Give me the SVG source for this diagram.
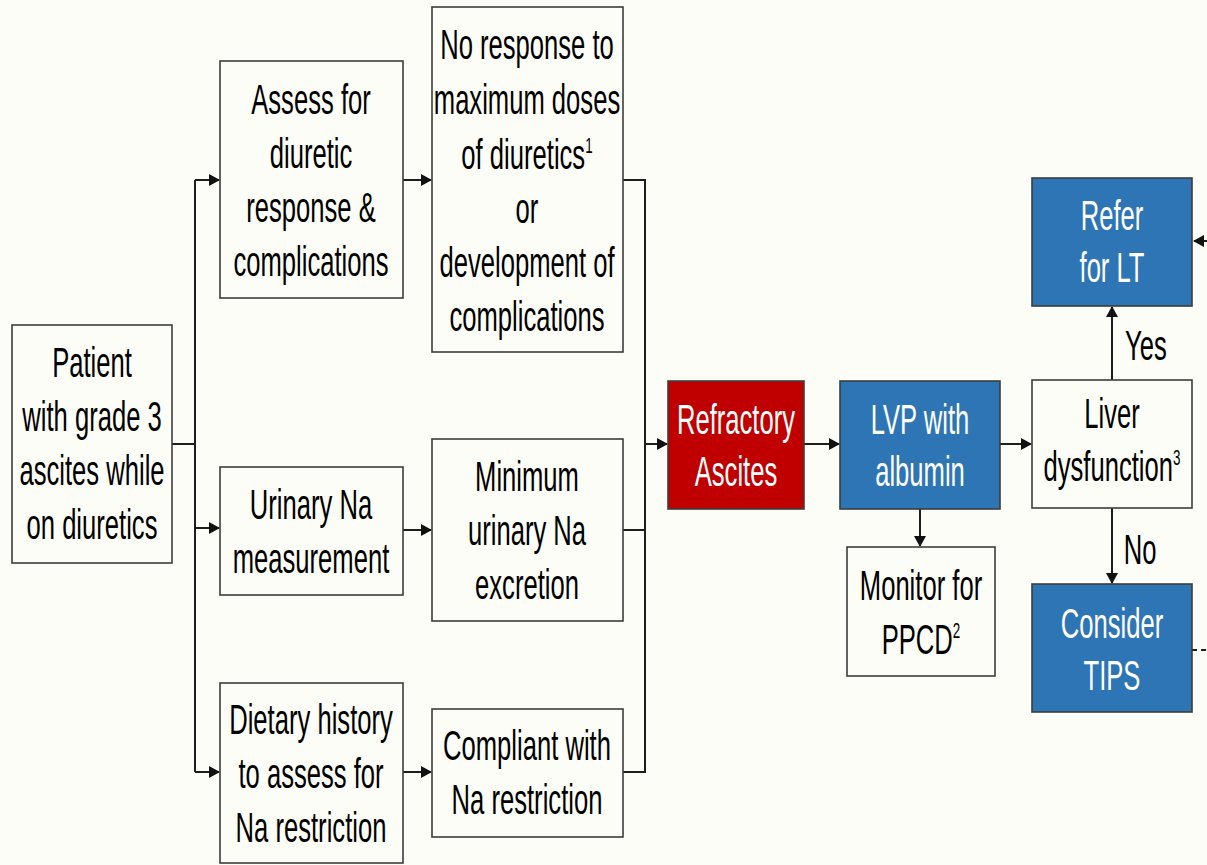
<svg xmlns="http://www.w3.org/2000/svg" width="1207" height="865" viewBox="0 0 1207 865">
<style>
.bg{fill:#fdfdf7}
.box{fill:#fdfdf7;stroke:#3c3c3c;stroke-width:1.6}
.red{fill:#c00000;stroke:#3c3c3c;stroke-width:1.6}
.blue{fill:#2e75b6;stroke:#3c3c3c;stroke-width:1.6}
.t{font-family:"Liberation Sans",Arial,sans-serif;font-size:42px;text-anchor:middle;fill:#000}
.w{fill:#fff}
.sup{font-size:22px}
.c{fill:none;stroke:#1e1e1e;stroke-width:2}
.d{fill:none;stroke:#1e1e1e;stroke-width:2;stroke-dasharray:5 4}
</style>
<defs>
<marker id="ah" markerUnits="userSpaceOnUse" markerWidth="11" markerHeight="12" refX="10" refY="6" orient="auto">
<path d="M0,0 L11,6 L0,12 z" fill="#111"/>
</marker>
</defs>
<rect class="bg" x="0" y="0" width="1207" height="865"/>

<g id="connectors">
<path class="c" d="M172,444 H195"/>
<path class="c" d="M195,180 V772"/>
<path class="c" d="M195,180 H219" marker-end="url(#ah)"/>
<path class="c" d="M195,528 H219" marker-end="url(#ah)"/>
<path class="c" d="M195,772 H219" marker-end="url(#ah)"/>
<path class="c" d="M403,180 H431" marker-end="url(#ah)"/>
<path class="c" d="M403,530 H431" marker-end="url(#ah)"/>
<path class="c" d="M403,772 H431" marker-end="url(#ah)"/>
<path class="c" d="M623,180 H645 V772 H623"/>
<path class="c" d="M623,530 H645"/>
<path class="c" d="M645,444 H667" marker-end="url(#ah)"/>
<path class="c" d="M804,444 H839" marker-end="url(#ah)"/>
<path class="c" d="M1000,444 H1031" marker-end="url(#ah)"/>
<path class="c" d="M920,509 V546" marker-end="url(#ah)"/>
<path class="c" d="M1112,380 V307" marker-end="url(#ah)"/>
<path class="c" d="M1112,508 V583" marker-end="url(#ah)"/>
<path class="d" d="M1207,241 H1194" marker-end="url(#ah)"/>
<path class="d" d="M1192,650 H1207"/>
</g>

<g id="patient">
<rect class="box" x="12" y="325" width="160" height="238"/>
<text class="t" transform="translate(92 0) scale(0.61 1)"><tspan x="0" y="377">Patient</tspan><tspan x="0" y="431">with grade 3</tspan><tspan x="0" y="485">ascites while</tspan><tspan x="0" y="539">on diuretics</tspan></text>
</g>

<g id="assess">
<rect class="box" x="220" y="61" width="183" height="237"/>
<text class="t" transform="translate(311 0) scale(0.61 1)"><tspan x="0" y="114">Assess for</tspan><tspan x="0" y="168">diuretic</tspan><tspan x="0" y="222">response &amp;</tspan><tspan x="0" y="276">complications</tspan></text>
</g>

<g id="noresponse">
<rect class="box" x="432" y="7" width="191" height="345"/>
<text class="t" transform="translate(527 0) scale(0.61 1)"><tspan x="0" y="59">No response to</tspan><tspan x="0" y="114">maximum doses</tspan><tspan x="0" y="169">of diuretics<tspan class="sup" dy="-16">1</tspan></tspan><tspan x="0" y="223">or</tspan><tspan x="0" y="277">development of</tspan><tspan x="0" y="331">complications</tspan></text>
</g>

<g id="urinary">
<rect class="box" x="220" y="467" width="183" height="128"/>
<text class="t" transform="translate(311 0) scale(0.61 1)"><tspan x="0" y="519">Urinary Na</tspan><tspan x="0" y="573">measurement</tspan></text>
</g>

<g id="minimum">
<rect class="box" x="432" y="439" width="191" height="182"/>
<text class="t" transform="translate(527 0) scale(0.61 1)"><tspan x="0" y="491">Minimum</tspan><tspan x="0" y="545">urinary Na</tspan><tspan x="0" y="599">excretion</tspan></text>
</g>

<g id="dietary">
<rect class="box" x="220" y="683" width="183" height="180"/>
<text class="t" transform="translate(311 0) scale(0.61 1)"><tspan x="0" y="734">Dietary history</tspan><tspan x="0" y="788">to assess for</tspan><tspan x="0" y="842">Na restriction</tspan></text>
</g>

<g id="compliant">
<rect class="box" x="432" y="709" width="191" height="128"/>
<text class="t" transform="translate(527 0) scale(0.61 1)"><tspan x="0" y="760">Compliant with</tspan><tspan x="0" y="814">Na restriction</tspan></text>
</g>

<g id="refractory">
<rect class="red" x="668" y="381" width="136" height="128"/>
<text class="t w" transform="translate(736 0) scale(0.61 1)"><tspan x="0" y="434">Refractory</tspan><tspan x="0" y="486">Ascites</tspan></text>
</g>

<g id="lvp">
<rect class="blue" x="840" y="381" width="160" height="128"/>
<text class="t w" transform="translate(920 0) scale(0.61 1)"><tspan x="0" y="434">LVP with</tspan><tspan x="0" y="486">albumin</tspan></text>
</g>

<g id="monitor">
<rect class="box" x="847" y="547" width="148" height="129"/>
<text class="t" transform="translate(921 0) scale(0.61 1)"><tspan x="0" y="600">Monitor for</tspan><tspan x="0" y="654">PPCD<tspan class="sup" dy="-16">2</tspan></tspan></text>
</g>

<g id="refer">
<rect class="blue" x="1032" y="178" width="160" height="128"/>
<text class="t w" transform="translate(1112 0) scale(0.61 1)"><tspan x="0" y="230">Refer</tspan><tspan x="0" y="282">for LT</tspan></text>
</g>

<g id="liver">
<rect class="box" x="1032" y="380" width="160" height="128"/>
<text class="t" transform="translate(1112 0) scale(0.61 1)"><tspan x="0" y="428">Liver</tspan><tspan x="0" y="481">dysfunction<tspan class="sup" dy="-16">3</tspan></tspan></text>
</g>

<g id="tips">
<rect class="blue" x="1032" y="584" width="160" height="128"/>
<text class="t w" transform="translate(1112 0) scale(0.61 1)"><tspan x="0" y="638">Consider</tspan><tspan x="0" y="690">TIPS</tspan></text>
</g>

<g id="labels">
<text class="t" transform="translate(1146 0) scale(0.61 1)"><tspan x="0" y="360">Yes</tspan></text>
<text class="t" transform="translate(1140 0) scale(0.61 1)"><tspan x="0" y="564">No</tspan></text>
</g>
</svg>
